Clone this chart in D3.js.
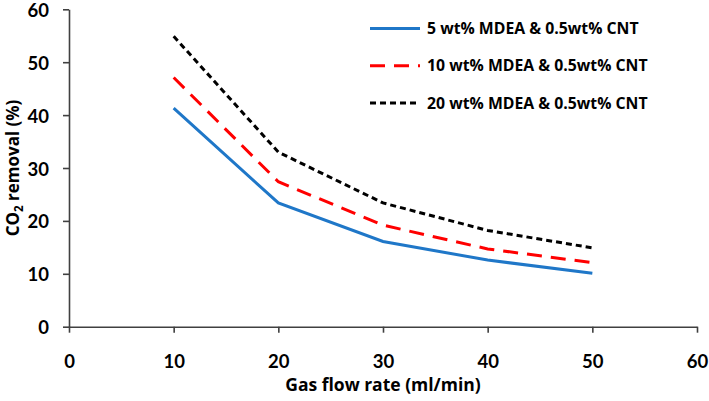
<!DOCTYPE html>
<html><head><meta charset="utf-8">
<script src="https://cdn.jsdelivr.net/npm/d3@7"></script>
<style>body{margin:0;background:#fff}</style>
</head><body>
<svg id="c" width="709" height="401"></svg>
<script>
const flowRates = [10, 20, 30, 40, 50];
const mdea5 = [41.3, 23.4, 16.1, 12.6, 10.1];
const mdea10 = [47.1, 27.4, 19.2, 14.7, 12.1];
const mdea20 = [54.9, 33.0, 23.4, 18.2, 14.9];
const seriesNames = ["5 wt% MDEA & 0.5wt% CNT", "10 wt% MDEA & 0.5wt% CNT", "20 wt% MDEA & 0.5wt% CNT"];
const xTicks = [0, 10, 20, 30, 40, 50, 60];
const yTicks = [0, 10, 20, 30, 40, 50, 60];

const series = [
  {name: seriesNames[0], values: mdea5, color: "#1f77c8", dash: null, w: 3},
  {name: seriesNames[1], values: mdea10, color: "#ff0000", dash: "15,9", w: 3},
  {name: seriesNames[2], values: mdea20, color: "#000000", dash: "6,4", w: 3}
];

const svg = d3.select("#c");
const font = "Lato, 'Open Sans', sans-serif";
const lfont = "'Open Sans', Lato, sans-serif";
const x = d3.scaleLinear().domain([0, 60]).range([69, 697]);
const y = d3.scaleLinear().domain([0, 60]).range([326.7, 9.3]);

const xAxis = svg.append("g").attr("transform", `translate(0,${y(0)})`)
  .call(d3.axisBottom(x).tickValues(xTicks).tickSize(6).tickSizeOuter(0).tickPadding(22));
const yAxis = svg.append("g").attr("transform", `translate(${x(0)},0)`)
  .call(d3.axisLeft(y).tickValues(yTicks).tickSize(6).tickSizeOuter(0).tickPadding(14));
[xAxis, yAxis].forEach(a => {
  a.selectAll("path,line").attr("stroke", "#404040").attr("stroke-width", 1.6);
  a.selectAll("text").attr("fill", "#000").style("font-family", font)
    .style("font-weight", "bold").style("font-size", "18.5px");
});
yAxis.selectAll("text").attr("dy", "0.38em");

const line = d3.line().x((d, i) => x(flowRates[i])).y(d => y(d));
series.forEach(s => {
  svg.append("path").datum(s.values).attr("d", line)
    .attr("fill", "none").attr("stroke", s.color).attr("stroke-width", s.w)
    .attr("stroke-dasharray", s.dash);
});

// legend
const lg = svg.append("g");
series.forEach((s, i) => {
  const ly = 28.5 + i * 37.3;
  lg.append("line").attr("x1", 370).attr("x2", 420).attr("y1", ly).attr("y2", ly)
    .attr("stroke", s.color).attr("stroke-width", s.w).attr("stroke-dasharray", s.dash);
  lg.append("text").attr("x", 427).attr("y", ly).attr("dy", "0.36em")
    .style("font-family", lfont).style("font-weight", "bold").style("font-size", "15.8px")
    .text(s.name);
});

// axis titles
svg.append("text").attr("x", x(30)).attr("y", 391).attr("text-anchor", "middle")
  .style("font-family", lfont).style("font-weight", "bold").style("font-size", "17.5px")
  .text("Gas flow rate (ml/min)");
const yt = svg.append("text").attr("transform", `translate(19,${y(30)}) rotate(-90)`)
  .attr("text-anchor", "middle")
  .style("font-family", lfont).style("font-weight", "bold").style("font-size", "17px");
yt.append("tspan").text("CO");
yt.append("tspan").attr("dy", 4).style("font-size", "11.5px").text("2");
yt.append("tspan").attr("dy", -4).text(" removal (%)");
</script>
</body></html>
